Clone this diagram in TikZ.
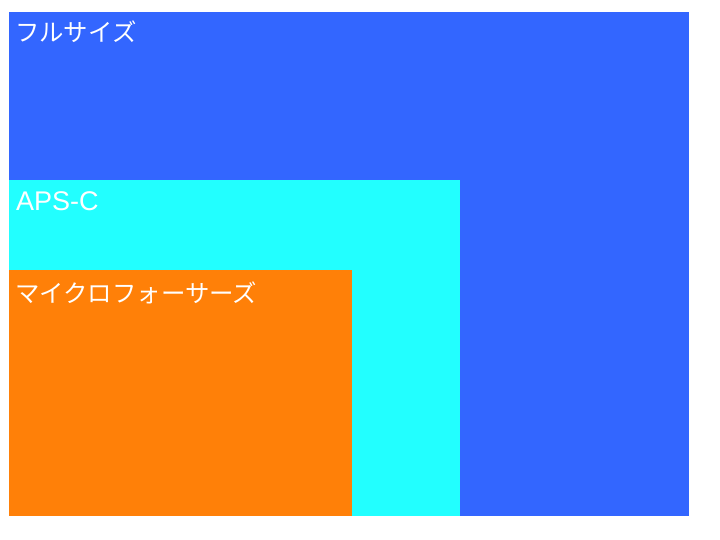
\documentclass[tikz,border=0pt]{standalone}
\usepackage{fontspec}
\setmainfont{Noto Sans CJK JP}
\newfontfamily\latinfont{Liberation Sans}
\definecolor{fullblue}{RGB}{51,102,255}
\definecolor{apscyan}{RGB}{34,255,255}
\definecolor{mftorange}{RGB}{255,128,8}
\tikzset{
  sensor/.style={draw=none},
  lbl/.style={anchor=base west,inner sep=0pt,text=white,font=\fontsize{24.4}{24.4}\selectfont}
}
\begin{document}
\begin{tikzpicture}[x=1pt,y=1pt]
\useasboundingbox[fill=white] (0,0) rectangle (720,540);
\fill[sensor,fullblue] (9,24) rectangle (689,528);
\fill[sensor,apscyan] (9,24) rectangle (460,360);
\fill[sensor,mftorange] (9,24) rectangle (352,270);
\node[lbl] (full) at (15,498) {フルサイズ};
\node[lbl,font=\latinfont\fontsize{27}{27}\selectfont] (aps) at (16,329) {APS-C};
\node[lbl] (mft) at (15,237) {マイクロフォーサーズ};
\end{tikzpicture}
\end{document}
